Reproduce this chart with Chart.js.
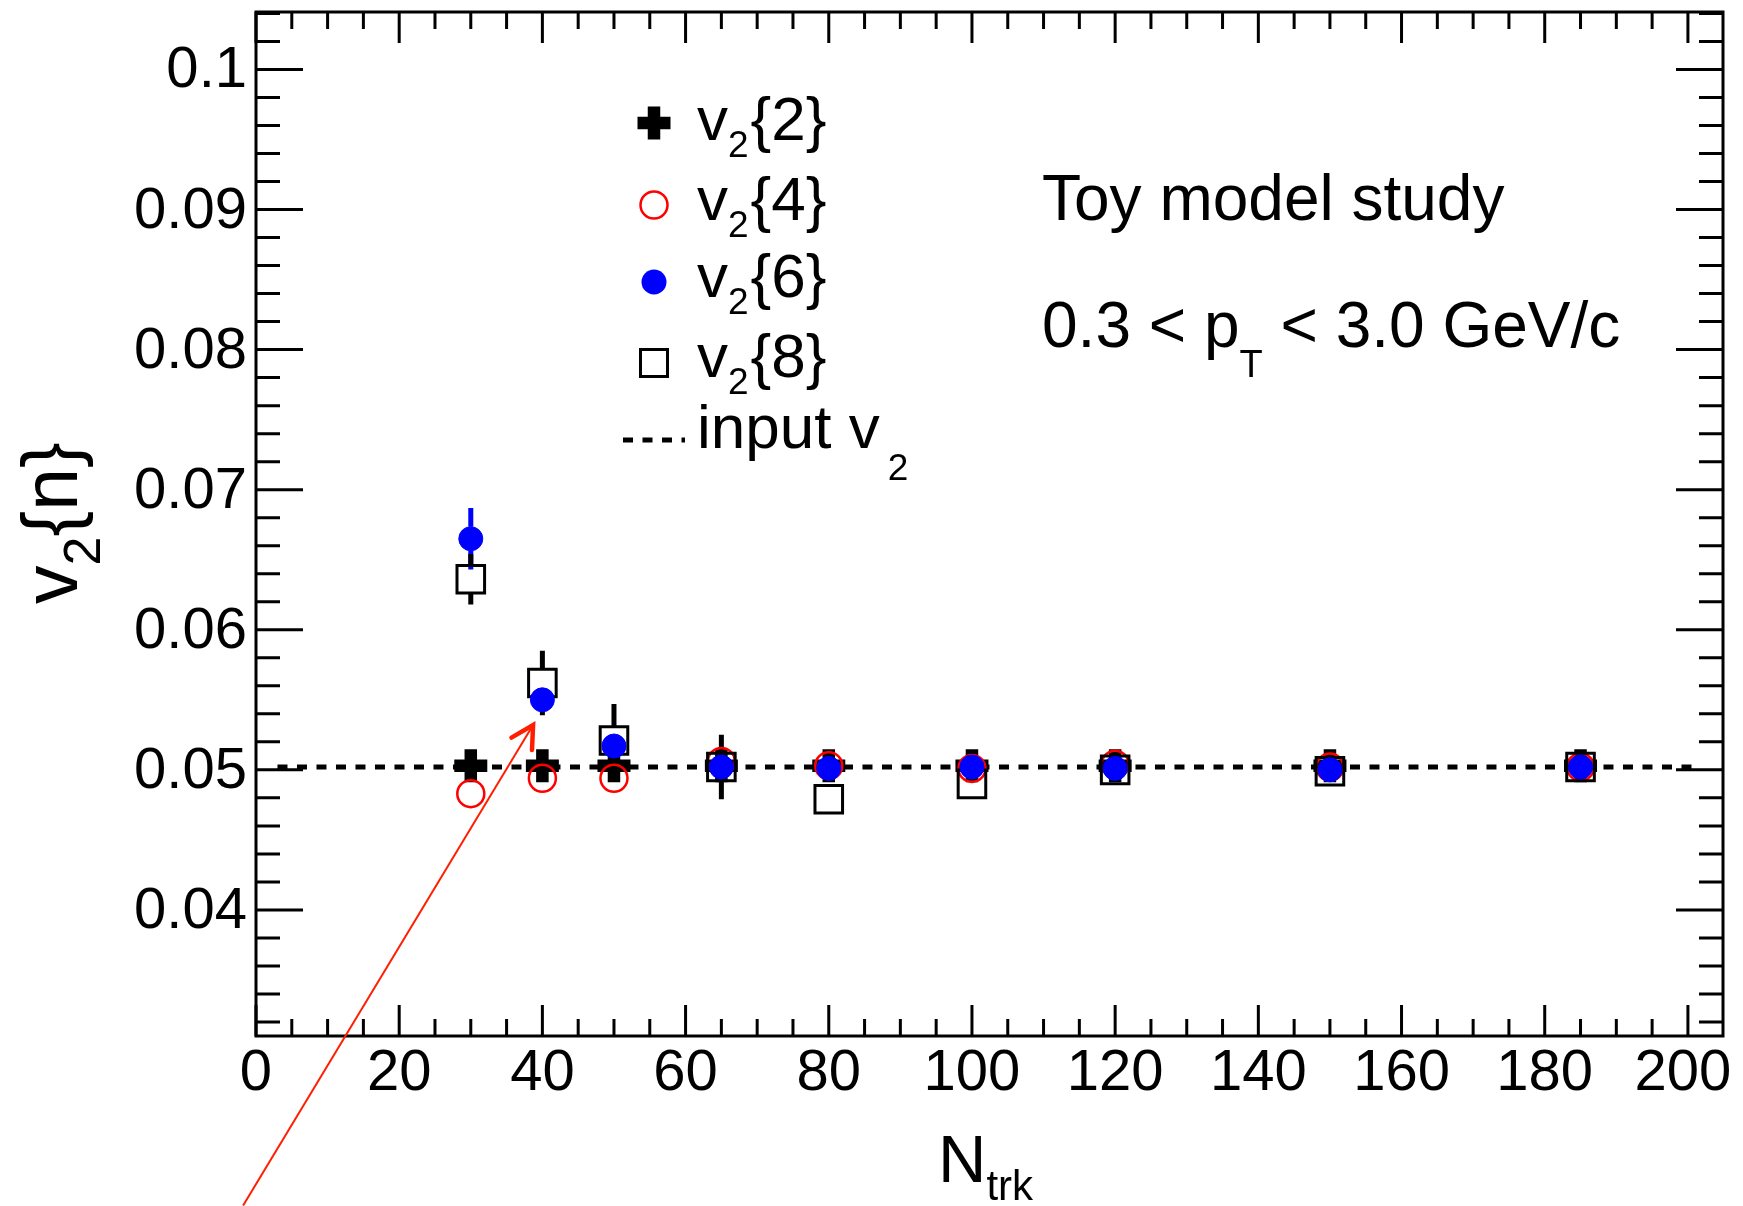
<!DOCTYPE html>
<html>
<head>
<meta charset="utf-8">
<script src="https://cdn.jsdelivr.net/npm/chart.js@4.4.1/dist/chart.umd.min.js"></script>
<style>
  html, body { margin: 0; padding: 0; background: #fff; }
  canvas { display: block; }
</style>
</head>
<body>
<canvas id="v2Chart" width="1743" height="1206"></canvas>
<script>
// N_trk bins
const nTrk = [30, 40, 50, 65, 80, 100, 120, 150, 185];

// cumulant results
const v2Two   = [0.0503, 0.0503, 0.0503, 0.0503, 0.0503, 0.0503, 0.0503, 0.0503, 0.0503];
const v2Four  = [0.0483, 0.0494, 0.0494, 0.0506, 0.0503, 0.0501, 0.0504, 0.0502, 0.0502];
const v2Six   = [0.0665, 0.0550, 0.0517, 0.0502, 0.0501, 0.0502, 0.0501, 0.0500, 0.0502];
const v2Eight = [0.0636, 0.0562, 0.0521, 0.0502, 0.0479, 0.0490, 0.0500, 0.0499, 0.0502];

// statistical errors
const errTwo   = [0.0008, 0.0010, 0.0010, 0.0008, 0.0006, 0.0005, 0.0004, 0.0004, 0.0003];
const errFour  = [0.0008, 0.0008, 0.0007, 0.0006, 0.0005, 0.0005, 0.0004, 0.0004, 0.0003];
const errSix   = [0.0022, 0.0007, 0.0005, 0.0005, 0.0004, 0.0004, 0.0003, 0.0003, 0.0003];
const errEight = [0.0018, 0.0023, 0.0026, 0.0023, 0.0009, 0.0008, 0.0006, 0.0005, 0.0004];

// input v2 reference line
const inputV2 = 0.0502;
const inputRange = [3, 201];

// axes
const xTicks = [0, 20, 40, 60, 80, 100, 120, 140, 160, 180, 200];
const yTicks = [0.04, 0.05, 0.06, 0.07, 0.08, 0.09, 0.1];
const yTickLabels = ['0.04', '0.05', '0.06', '0.07', '0.08', '0.09', '0.1'];
const xRange = [0, 204.9];
const yRange = [0.031, 0.1041];

// annotation arrow (data coords)
const arrowFrom = [-1.8, 0.0189];
const arrowTo = [38.7, 0.0532];

const FONT = '"Liberation Sans", Arial, Helvetica, sans-serif';
const font = (s) => s + 'px ' + FONT;

// text with sub/superscripts: parts = [{text, size, dy, dx}]
function drawRich(ctx, x, y, parts) {
  let cx = x;
  parts.forEach(p => {
    ctx.font = font(p.size);
    cx += (p.dx || 0);
    ctx.fillText(p.text, cx, y + (p.dy || 0));
    cx += ctx.measureText(p.text).width;
  });
}

function drawMarker(ctx, kind, x, y) {
  ctx.save();
  if (kind === 'cross') {
    ctx.strokeStyle = '#000';
    ctx.lineWidth = 12.5;
    ctx.beginPath();
    ctx.moveTo(x - 16.5, y); ctx.lineTo(x + 16.5, y);
    ctx.moveTo(x, y - 16.5); ctx.lineTo(x, y + 16.5);
    ctx.stroke();
  } else if (kind === 'open') {
    ctx.strokeStyle = '#ff0000';
    ctx.lineWidth = 2.5;
    ctx.beginPath();
    ctx.arc(x, y, 13.5, 0, Math.PI * 2);
    ctx.stroke();
  } else if (kind === 'full') {
    ctx.fillStyle = '#0000ff';
    ctx.beginPath();
    ctx.arc(x, y, 12.5, 0, Math.PI * 2);
    ctx.fill();
  } else if (kind === 'square') {
    ctx.strokeStyle = '#000';
    ctx.lineWidth = 3;
    ctx.strokeRect(x - 13.5, y - 13.5, 27, 27);
  }
  ctx.restore();
}

const series = [
  { values: v2Two, errors: errTwo, color: '#000', gap: 16 },
  { values: v2Four, errors: errFour, color: '#ff0000', gap: 13 },
  { values: v2Six, errors: errSix, color: '#0000ff', gap: 12 },
  { values: v2Eight, errors: errEight, color: '#000', gap: 14 }
];

const toPoints = (vals) => vals.map((v, i) => ({ x: nTrk[i], y: v }));

const errorBars = {
  id: 'errorBars',
  beforeDatasetsDraw(chart) {
    const { ctx, scales: { x, y } } = chart;
    ctx.save();
    ctx.lineWidth = 5;
    series.forEach(s => {
      ctx.strokeStyle = s.color;
      s.values.forEach((v, i) => {
        const px = x.getPixelForValue(nTrk[i]);
        const py = y.getPixelForValue(v);
        const top = y.getPixelForValue(v + s.errors[i]);
        const bottom = y.getPixelForValue(v - s.errors[i]);
        ctx.beginPath();
        if (py - top > s.gap) { ctx.moveTo(px, top); ctx.lineTo(px, py - s.gap); }
        if (bottom - py > s.gap) { ctx.moveTo(px, py + s.gap); ctx.lineTo(px, bottom); }
        ctx.stroke();
      });
    });
    ctx.restore();
  }
};

const rootFrame = {
  id: 'rootFrame',
  afterDraw(chart) {
    const { ctx, chartArea: a, scales: { x, y } } = chart;
    ctx.save();
    ctx.strokeStyle = '#000';
    ctx.lineWidth = 3;
    ctx.strokeRect(a.left, a.top, a.right - a.left, a.bottom - a.top);

    // x ticks, bottom and top, pointing inward
    ctx.beginPath();
    for (let k = 0; k * 5 <= xRange[1]; k++) {
      const px = x.getPixelForValue(k * 5);
      const len = k % 4 === 0 ? 31 : 17;
      ctx.moveTo(px, a.bottom); ctx.lineTo(px, a.bottom - len);
      ctx.moveTo(px, a.top); ctx.lineTo(px, a.top + len);
    }
    // y ticks, left and right
    for (let k = Math.ceil(yRange[0] / 0.002); k * 0.002 <= yRange[1] + 1e-9; k++) {
      const py = y.getPixelForValue(k * 0.002);
      const len = k % 5 === 0 ? 47 : 24;
      ctx.moveTo(a.left, py); ctx.lineTo(a.left + len, py);
      ctx.moveTo(a.right, py); ctx.lineTo(a.right - len, py);
    }
    ctx.stroke();

    // tick labels (ROOT pulls the last one in a little)
    ctx.fillStyle = '#000';
    ctx.font = font(58);
    ctx.textAlign = 'center';
    ctx.textBaseline = 'alphabetic';
    xTicks.forEach((t, i) => {
      const shift = i === xTicks.length - 1 ? -5 : 0;
      ctx.fillText(String(t), x.getPixelForValue(t) + shift, a.bottom + 54);
    });
    ctx.textAlign = 'right';
    ctx.textBaseline = 'middle';
    yTicks.forEach((t, i) => ctx.fillText(yTickLabels[i], a.left - 9, y.getPixelForValue(t) + 2));

    // axis titles
    ctx.textAlign = 'left';
    ctx.textBaseline = 'alphabetic';
    drawRich(ctx, 938, 1182, [
      { text: 'N', size: 67 },
      { text: 'trk', size: 42, dy: 18 }
    ]);
    ctx.save();
    ctx.translate(77, 604);
    ctx.rotate(-Math.PI / 2);
    drawRich(ctx, 0, 0, [
      { text: 'v', size: 77 },
      { text: '2', size: 52, dy: 23 },
      { text: '{n}', size: 77 }
    ]);
    ctx.restore();

    // legend
    const lx = 697;
    const rows = [
      { kind: 'cross', label: '2', base: 140, my: 123 },
      { kind: 'open', label: '4', base: 220, my: 205 },
      { kind: 'full', label: '6', base: 297, my: 282 },
      { kind: 'square', label: '8', base: 377, my: 363 }
    ];
    rows.forEach(r => {
      drawMarker(ctx, r.kind, 654, r.my);
      drawRich(ctx, lx, r.base, [
        { text: 'v', size: 62 },
        { text: '2', size: 37, dy: 17 },
        { text: '{' + r.label + '}', size: 62, dx: 2 }
      ]);
    });
    ctx.save();
    ctx.lineWidth = 5;
    ctx.setLineDash([10, 9.5]);
    ctx.beginPath();
    ctx.moveTo(623, 440); ctx.lineTo(685, 440);
    ctx.stroke();
    ctx.restore();
    drawRich(ctx, lx, 448, [
      { text: 'input v', size: 62 },
      { text: '2', size: 37, dy: 32, dx: 8 }
    ]);

    // annotations
    drawRich(ctx, 1042, 220, [{ text: 'Toy model study', size: 64 }]);
    drawRich(ctx, 1042, 347, [
      { text: '0.3 < p', size: 64 },
      { text: 'T', size: 38, dy: 30 },
      { text: ' < 3.0 GeV/c', size: 64 }
    ]);

    // red arrow
    const x0 = x.getPixelForValue(arrowFrom[0]), y0 = y.getPixelForValue(arrowFrom[1]);
    const x1 = x.getPixelForValue(arrowTo[0]), y1 = y.getPixelForValue(arrowTo[1]);
    const ang = Math.atan2(y1 - y0, x1 - x0);
    ctx.strokeStyle = 'rgb(255,30,0)';
    ctx.lineWidth = 2;
    ctx.beginPath();
    ctx.moveTo(x0, y0); ctx.lineTo(x1, y1);
    ctx.stroke();
    ctx.lineWidth = 4.5;
    ctx.lineCap = 'round';
    ctx.beginPath();
    ctx.moveTo(x1 - 25 * Math.cos(ang - 0.5), y1 - 25 * Math.sin(ang - 0.5));
    ctx.lineTo(x1, y1);
    ctx.lineTo(x1 - 25 * Math.cos(ang + 0.5), y1 - 25 * Math.sin(ang + 0.5));
    ctx.stroke();
    ctx.restore();
  }
};

new Chart(document.getElementById('v2Chart'), {
  type: 'scatter',
  data: {
    datasets: [
      {
        label: 'input v2',
        data: inputRange.map(n => ({ x: n, y: inputV2 })),
        showLine: true,
        borderColor: '#000',
        borderWidth: 5,
        borderDash: [10, 9.5],
        pointRadius: 0,
        order: 5
      },
      {
        label: 'v2{2}',
        data: toPoints(v2Two),
        pointStyle: 'cross',
        pointRadius: 16.5,
        borderWidth: 12.5,
        borderColor: '#000',
        backgroundColor: '#000',
        order: 4
      },
      {
        label: 'v2{4}',
        data: toPoints(v2Four),
        pointStyle: 'circle',
        pointRadius: 13.5,
        borderWidth: 2.5,
        borderColor: '#ff0000',
        backgroundColor: 'rgba(0,0,0,0)',
        order: 3
      },
      {
        label: 'v2{8}',
        data: toPoints(v2Eight),
        pointStyle: 'rect',
        pointRadius: 19.5,
        borderWidth: 3,
        borderColor: '#000',
        backgroundColor: 'rgba(0,0,0,0)',
        order: 2
      },
      {
        label: 'v2{6}',
        data: toPoints(v2Six),
        pointStyle: 'circle',
        pointRadius: 12,
        borderWidth: 1,
        borderColor: '#0000ff',
        backgroundColor: '#0000ff',
        order: 1
      }
    ]
  },
  options: {
    responsive: false,
    animation: false,
    devicePixelRatio: 1,
    events: [],
    layout: { autoPadding: false, padding: { left: 256, right: 20, top: 12, bottom: 170 } },
    plugins: { legend: { display: false }, tooltip: { enabled: false } },
    scales: {
      x: { type: 'linear', display: false, min: xRange[0], max: xRange[1] },
      y: { type: 'linear', display: false, min: yRange[0], max: yRange[1] }
    }
  },
  plugins: [errorBars, rootFrame]
});
</script>
</body>
</html>
